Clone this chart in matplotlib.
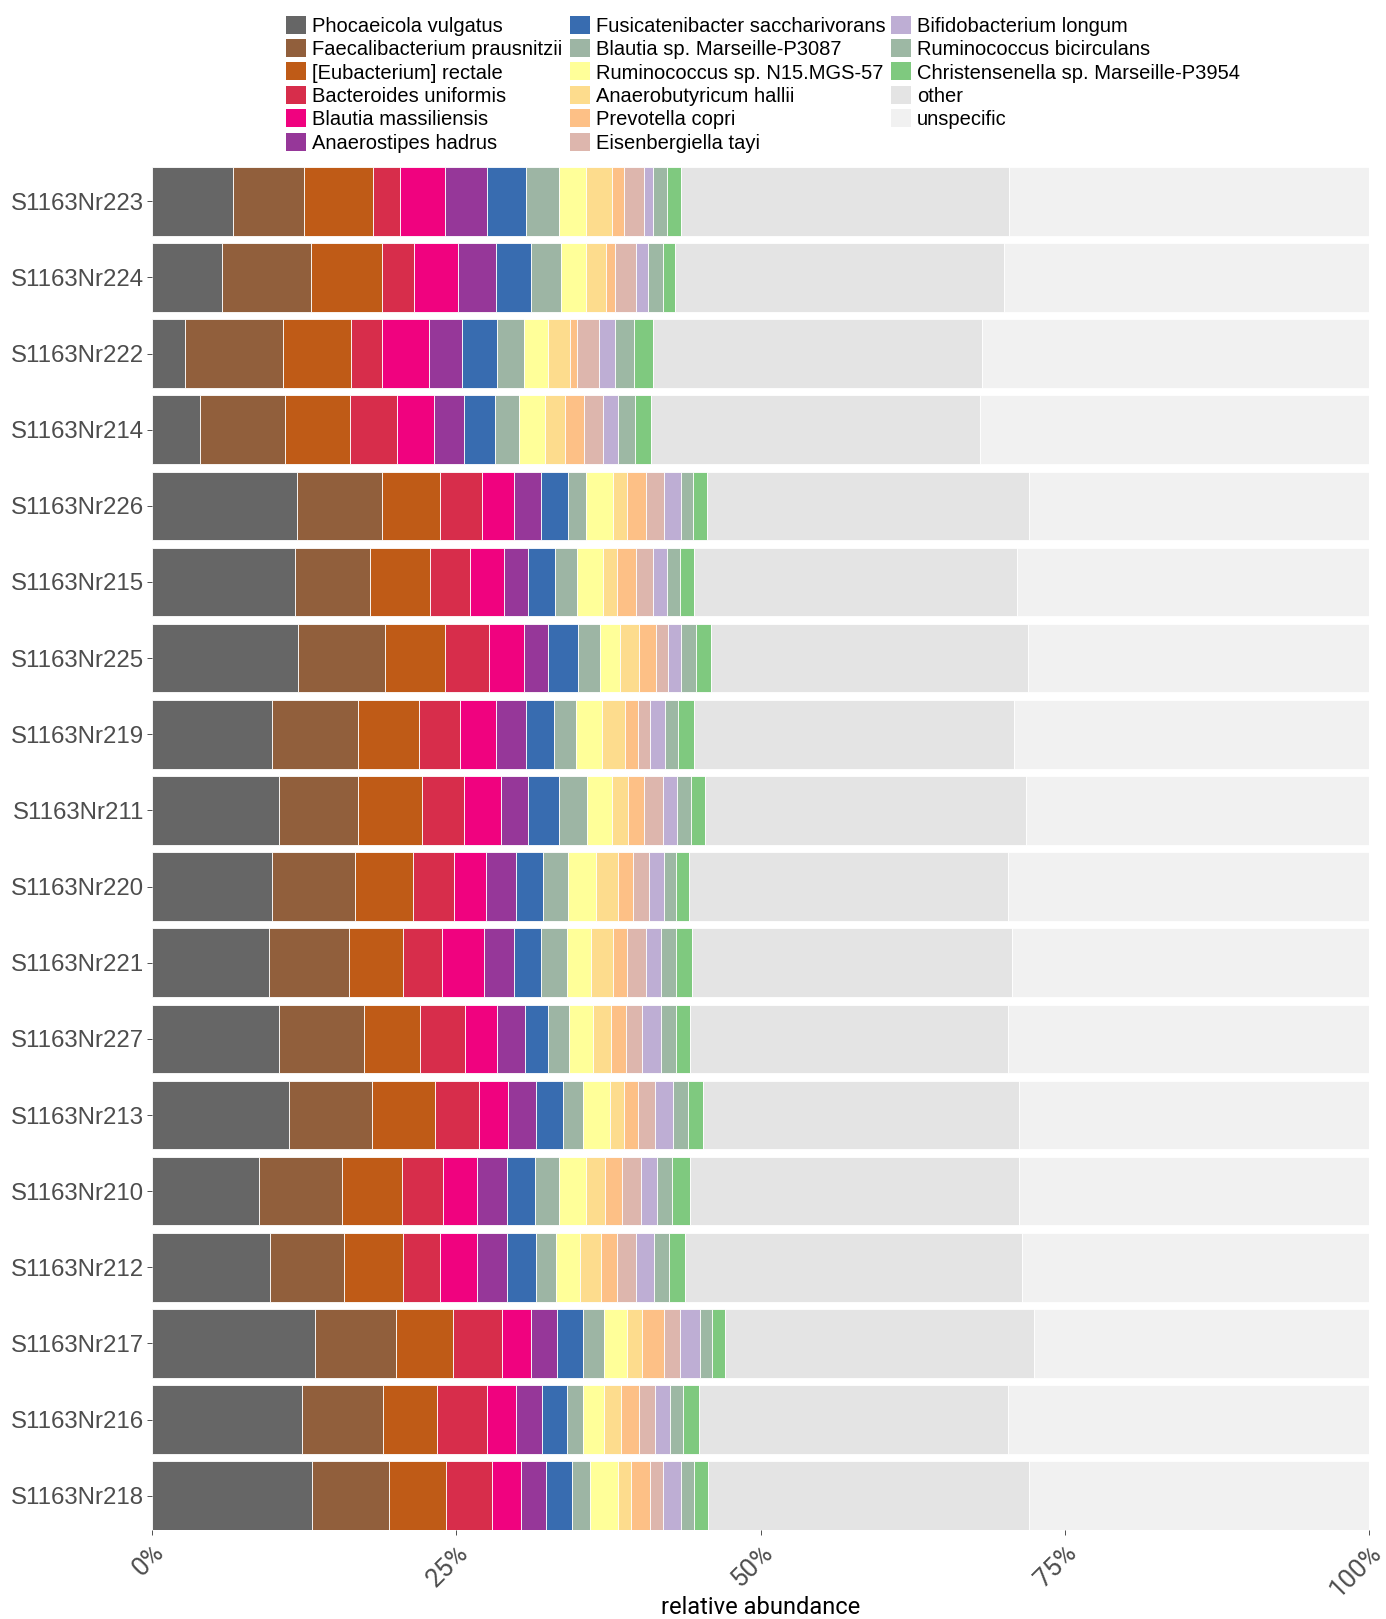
import numpy as np
import matplotlib
matplotlib.use("Agg")
import matplotlib.pyplot as plt
from matplotlib.patches import Rectangle

samples = ["S1163Nr223", "S1163Nr224", "S1163Nr222", "S1163Nr214", "S1163Nr226", "S1163Nr215",
           "S1163Nr225", "S1163Nr219", "S1163Nr211", "S1163Nr220", "S1163Nr221", "S1163Nr227",
           "S1163Nr213", "S1163Nr210", "S1163Nr212", "S1163Nr217", "S1163Nr216", "S1163Nr218"]

species = ["Phocaeicola vulgatus", "Faecalibacterium prausnitzii", "[Eubacterium] rectale",
           "Bacteroides uniformis", "Blautia massiliensis", "Anaerostipes hadrus",
           "Fusicatenibacter saccharivorans", "Blautia sp. Marseille-P3087", "Ruminococcus sp. N15.MGS-57",
           "Anaerobutyricum hallii", "Prevotella copri", "Eisenbergiella tayi",
           "Bifidobacterium longum", "Ruminococcus bicirculans", "Christensenella sp. Marseille-P3954",
           "other", "unspecific"]

colors = ["#666666", "#915F3C", "#BF5B17", "#D72D4B", "#F0027F", "#963799",
          "#386CB0", "#9DB5A4", "#FFFF99", "#FDDC8D", "#FDC086", "#DDB6AD",
          "#BEAED4", "#9DB8A4", "#7FC97F", "#E4E4E4", "#F1F1F1"]

# relative abundance (%) per species, in sample order (top to bottom)
phocaeicola_vulgatus = [6.66, 5.75, 2.68, 3.96, 11.93, 11.74, 12.02, 9.83, 10.40, 9.83, 9.64, 10.43, 11.26, 8.82, 9.71, 13.36, 12.35, 13.17]
faecalibacterium_prausnitzii = [5.87, 7.33, 8.12, 6.99, 6.93, 6.15, 7.09, 7.08, 6.51, 6.81, 6.54, 6.97, 6.84, 6.76, 6.05, 6.69, 6.66, 6.33]
eubacterium_rectale = [5.60, 5.81, 5.54, 5.30, 4.78, 4.96, 4.98, 4.99, 5.30, 4.78, 4.45, 4.66, 5.14, 4.96, 4.90, 4.71, 4.39, 4.66]
bacteroides_uniformis = [2.22, 2.65, 2.52, 3.92, 3.50, 3.31, 3.62, 3.38, 3.44, 3.40, 3.19, 3.65, 3.59, 3.40, 3.04, 3.99, 4.16, 3.80]
blautia_massiliensis = [3.74, 3.59, 3.87, 2.98, 2.58, 2.77, 2.83, 3.01, 3.01, 2.62, 3.47, 2.61, 2.44, 2.77, 2.98, 2.37, 2.31, 2.37]
anaerostipes_hadrus = [3.44, 3.10, 2.76, 2.50, 2.22, 1.95, 2.01, 2.41, 2.25, 2.43, 2.49, 2.35, 2.31, 2.43, 2.50, 2.16, 2.16, 2.01]
fusicatenibacter = [3.20, 2.92, 2.89, 2.52, 2.22, 2.25, 2.44, 2.34, 2.52, 2.26, 2.22, 1.88, 2.16, 2.35, 2.34, 2.13, 2.10, 2.16]
blautia_sp = [2.73, 2.47, 2.16, 2.01, 1.53, 1.76, 1.82, 1.76, 2.29, 2.07, 2.07, 1.74, 1.70, 1.97, 1.64, 1.71, 1.31, 1.52]
ruminococcus_n15 = [2.20, 2.01, 1.98, 2.13, 2.22, 2.20, 1.67, 2.20, 2.07, 2.28, 2.04, 1.97, 2.16, 2.20, 2.04, 1.88, 1.74, 2.25]
anaerobutyricum_hallii = [2.16, 1.67, 1.83, 1.64, 1.12, 1.09, 1.50, 1.85, 1.36, 1.85, 1.74, 1.46, 1.16, 1.58, 1.70, 1.25, 1.37, 1.10]
prevotella_copri = [0.94, 0.73, 0.61, 1.52, 1.55, 1.58, 1.43, 1.06, 1.28, 1.22, 1.21, 1.22, 1.18, 1.34, 1.34, 1.86, 1.46, 1.52]
eisenbergiella_tayi = [1.67, 1.73, 1.76, 1.59, 1.46, 1.40, 0.97, 1.01, 1.52, 1.28, 1.52, 1.34, 1.37, 1.58, 1.55, 1.30, 1.30, 1.09]
bifidobacterium_longum = [0.76, 0.98, 1.31, 1.27, 1.43, 1.16, 1.12, 1.22, 1.22, 1.21, 1.25, 1.52, 1.46, 1.34, 1.49, 1.62, 1.25, 1.52]
ruminococcus_bicirculans = [1.10, 1.24, 1.58, 1.34, 1.01, 1.03, 1.22, 1.06, 1.10, 1.04, 1.25, 1.22, 1.31, 1.25, 1.22, 0.97, 1.10, 1.07]
christensenella = [1.18, 1.01, 1.52, 1.31, 1.12, 1.22, 1.22, 1.31, 1.18, 1.03, 1.28, 1.22, 1.16, 1.42, 1.28, 1.09, 1.28, 1.12]
other = [26.92, 26.99, 27.05, 27.03, 26.47, 26.51, 26.07, 26.30, 26.37, 26.26, 26.28, 26.13, 26.01, 27.05, 27.71, 25.39, 25.43, 26.35]
unspecific = [29.61, 30.02, 31.82, 31.99, 27.93, 28.92, 27.99, 29.19, 28.18, 29.63, 29.36, 29.63, 28.75, 28.78, 28.51, 27.52, 29.63, 27.96]

series = [phocaeicola_vulgatus, faecalibacterium_prausnitzii, eubacterium_rectale, bacteroides_uniformis,
          blautia_massiliensis, anaerostipes_hadrus, fusicatenibacter, blautia_sp, ruminococcus_n15,
          anaerobutyricum_hallii, prevotella_copri, eisenbergiella_tayi, bifidobacterium_longum,
          ruminococcus_bicirculans, christensenella, other, unspecific]

xticks = [0, 25, 50, 75, 100]
xticklabels = ["0%", "25%", "50%", "75%", "100%"]

W, H = 1386, 1619
fig = plt.figure(figsize=(W / 100, H / 100), dpi=100)
fig.patch.set_facecolor("white")

ax = fig.add_axes([152 / W, 1 - 1530 / H, (1369 - 152) / W, (1530 - 167) / H])
y = np.arange(len(samples))
left = np.zeros(len(samples))
for vals, col in zip(series, colors):
    vals = np.asarray(vals, dtype=float)
    ax.barh(y, vals, left=left, height=0.9, color=col, edgecolor="white", linewidth=0.6)
    left += vals

ax.set_xlim(0, 100)
ax.set_ylim(len(samples) - 0.55, -0.45)
for s in ax.spines.values():
    s.set_visible(False)

ax.set_yticks(y)
ax.set_yticklabels(samples, fontsize=17.3, color="#4D4D4D", family=["Liberation Sans", "DejaVu Sans"])
ax.tick_params(axis="y", length=3.5, width=0.6, color="#333333", pad=2)

ax.set_xticks(xticks)
ax.set_xticklabels(xticklabels, fontsize=18.5, color="#4D4D4D", family=["Roboto", "DejaVu Sans"],
                   rotation=45, ha="right", va="top", rotation_mode="anchor")
ax.tick_params(axis="x", length=3.5, width=0.6, color="#333333", pad=4)

fig.text(761 / W, 1 - 1614 / H, "relative abundance", ha="center", va="baseline",
         fontsize=17, color="black", family=["Roboto", "DejaVu Sans"])

# legend, three columns of swatches and labels
col_x = [286, 570, 891]
for i, (name, col) in enumerate(zip(species, colors)):
    c, r = divmod(i, 6)
    kx = col_x[c]
    cy = 24.8 + 23.35 * r
    fig.patches.append(Rectangle((kx / W, 1 - (cy + 9) / H), 20 / W, 18 / H,
                                 transform=fig.transFigure, facecolor=col, edgecolor="none"))
    fig.text((kx + 26) / W, 1 - (cy + 7.2) / H, name, ha="left", va="baseline",
             fontsize=14.5, color="black", family=["Liberation Sans", "DejaVu Sans"])

fig.savefig("out.png", dpi=100, facecolor="white")
